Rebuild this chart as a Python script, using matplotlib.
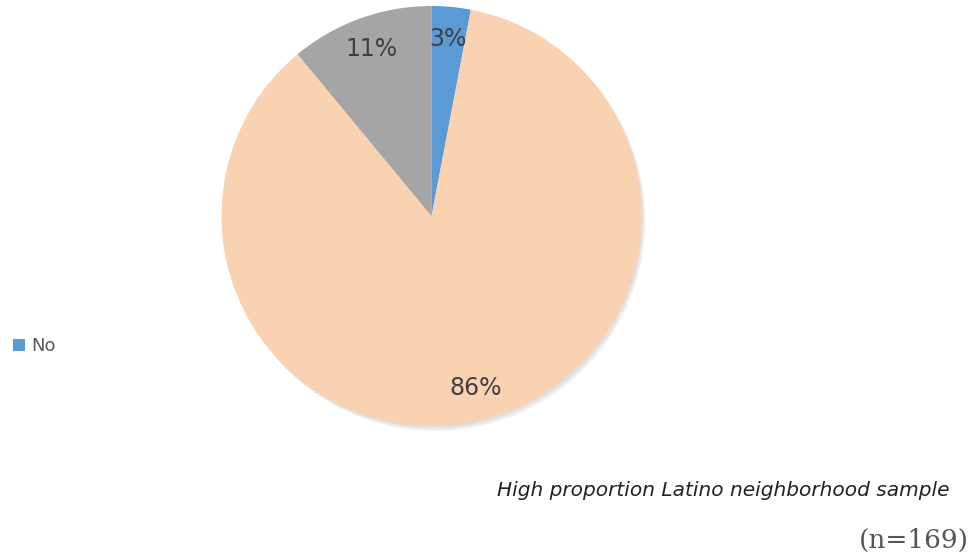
import matplotlib
matplotlib.use("Agg")
import matplotlib.pyplot as plt
from matplotlib.patches import Circle, Patch
import numpy as np

labels = ["No", "Yes", "Don't know"]
values = [3, 86, 11]
colors = ["#5B9BD5", "#F9D2B2", "#A5A5A5"]
pct_labels = ["3%", "86%", "11%"]

W, H = 979, 556
fig = plt.figure(figsize=(W/100, H/100), dpi=100)
cx, cy, r = 431.5, 216, 210
ax = fig.add_axes([(cx-r)/W, (H-cy-r)/H, 2*r/W, 2*r/H])

# soft shadow
for i, a in enumerate([0.06, 0.06, 0.07]):
    ax.add_patch(Circle((0.006*(i+1), -0.008*(i+1)), 1.0, color="#5a4a40", alpha=a,
                        lw=0, zorder=0, clip_on=False))

wedges, _ = ax.pie(values, colors=colors, startangle=90, counterclock=False,
                   radius=1.0, wedgeprops=dict(linewidth=0))
for w in wedges:
    w.set_zorder(1)
    w.set_clip_on(False)
ax.set_xlim(-1, 1)
ax.set_ylim(-1, 1)
ax.set_aspect("equal")
ax.axis("off")

ang = 90.0
for v, t in zip(values, pct_labels):
    mid = ang - v*3.6/2
    ang -= v*3.6
    x = 0.845*np.cos(np.radians(mid)); y = 0.845*np.sin(np.radians(mid))
    ax.text(x, y, t, ha="center", va="center", fontsize=17, color="#404040", zorder=3)

fig.legend(handles=[Patch(facecolor=colors[0], edgecolor="none")], labels=[labels[0]],
           loc="center left", bbox_to_anchor=(-0.003, 1-346/H), frameon=False,
           fontsize=13, labelcolor="#595959", handlelength=0.65, handleheight=0.65,
           handletextpad=0.35)

fig.text(950/W, 1-490/H, "High proportion Latino neighborhood sample", ha="right", va="center",
         fontsize=14.5, style="italic", color="#222222", family="DejaVu Sans")
fig.text(969/W, 1-540/H, "(n=169)", ha="right", va="center", fontsize=19,
         color="#555555", family="DejaVu Serif")

fig.savefig("out.png", dpi=100)
